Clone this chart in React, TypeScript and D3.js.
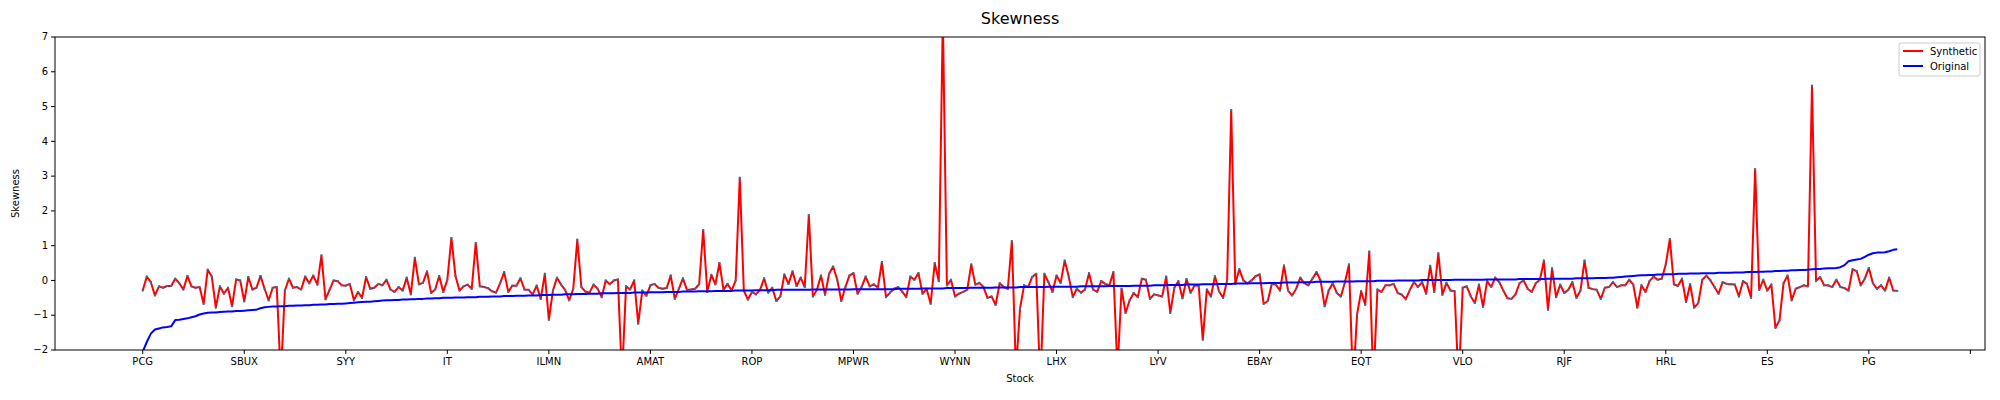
import * as d3 from "d3";

const tickLabels = ["PCG", "SBUX", "SYY", "IT", "ILMN", "AMAT", "ROP", "MPWR", "WYNN", "LHX", "LYV", "EBAY", "EQT", "VLO", "RJF", "HRL", "ES", "PG", ""];
const yTicks = [-2, -1, 0, 1, 2, 3, 4, 5, 6, 7];

const synthetic = [
  -0.29, 0.11, -0.05, -0.43, -0.17, -0.21, -0.16, -0.16, 0.05, -0.08, -0.26, 0.13, -0.17, -0.21, -0.19, -0.67, 0.31, 0.11, -0.78, -0.17, -0.38, -0.21, -0.74, 0.03, 0.0,
  -0.6, 0.1, -0.26, -0.21, 0.13, -0.24, -0.57, -0.21, -0.19, -2.8, -0.29, 0.05, -0.21, -0.19, -0.26, 0.11, -0.08, 0.14, -0.12, 0.72, -0.54, -0.27, 0.0, -0.02, -0.14,
  -0.15, -0.1, -0.57, -0.33, -0.5, 0.1, -0.24, -0.21, -0.1, -0.14, 0.02, -0.26,
  -0.33, -0.19, -0.29, 0.08, -0.4, 0.65, -0.11, -0.07, 0.26, -0.36,
  -0.26, 0.13, -0.33, 0.02, 1.22, 0.13, -0.29, -0.17, -0.12, -0.24,
  1.08, -0.17, -0.19, -0.22, -0.31, -0.35, -0.08, 0.24, -0.33, -0.15,
  -0.15, 0.06, -0.26, -0.27, -0.4, -0.15, -0.53, 0.19, -1.13, -0.29,
  0.08, -0.12, -0.27, -0.57, -0.24, 1.17, -0.19, -0.32, -0.35, -0.12,
  -0.24, -0.48, 0.0, -0.11, 0.0, 0.03, -2.8, -0.17, -0.26, 0.0,
  -1.24, -0.29,
  -0.44, -0.14, -0.1, -0.21, -0.24, -0.22, 0.14, -0.53, -0.24, 0.06,
  -0.27, -0.26, -0.24, -0.11, 1.45, -0.33, 0.16, -0.11, 0.5, -0.27,
  -0.1, -0.29, 0.0, 2.95, -0.29, -0.55, -0.33, -0.4, -0.27, 0.06,
  -0.35, -0.21, -0.59, -0.46, 0.17, -0.1, 0.26, -0.16, 0.08, -0.19,
  1.88, -0.46, -0.27, 0.14, -0.41, 0.19, 0.4, 0.02, -0.59, -0.19,
  0.14, 0.21, -0.38, -0.19, 0.11, -0.17, -0.11, -0.21, 0.53, -0.48,
  -0.35, -0.24,
  -0.19, -0.32, -0.48, 0.11, 0.02, 0.21, -0.38, -0.24, -0.67, 0.5,
  -0.02, 7.6, -0.14, 0.02, -0.46, -0.38, -0.33, -0.27, 0.46, -0.12,
  -0.07, -0.19, -0.5, -0.46, -0.7, -0.08, -0.19, -0.24, 1.13, -2.6,
  -0.81, -0.14, -0.19, 0.1, 0.19, -3.0, 0.19, -0.05, -0.33, 0.14,
  -0.07, 0.57, 0.11, -0.48, -0.24, -0.35, -0.26, 0.21, -0.26, -0.33,
  -0.02, -0.1, -0.14, 0.24, -2.6, -0.24, -0.93, -0.57, -0.36, -0.48,
  0.05, 0.02, -0.53, -0.4,
  -0.43, -0.46, 0.11, -0.93, -0.21, -0.02, -0.51, 0.04, -0.35, -0.14,
  -0.16, -1.7, -0.26, -0.46, 0.12, -0.31, -0.5, 0.0, 4.9, -0.1,
  0.32, 0.0, -0.08, 0.0, 0.12, 0.17, -0.67, -0.59, -0.1, -0.12,
  -0.29, 0.43, -0.29, -0.43, -0.24, 0.08, -0.08, -0.14, 0.05, 0.24,
  0.0, -0.74, -0.29, -0.08, -0.36, -0.46, -0.05, 0.46, -3.0, -0.97,
  -0.31, -0.7, 0.83, -3.0, -0.26, -0.33, -0.14, -0.14, -0.1, -0.36,
  -0.41,
  -0.54, -0.27, -0.05, -0.19, -0.05, -0.38, 0.42, -0.33, 0.78, -0.41,
  -0.07, -0.29, -0.31, -3.0, -0.21, -0.17, -0.46, -0.65, -0.12, -0.76,
  -0.02, -0.19, 0.08, -0.05, -0.29, -0.51, -0.53, -0.4, -0.08, 0.0,
  -0.24, -0.33, -0.08, 0.02, 0.57, -0.84, 0.35, -0.48, -0.12, -0.36,
  -0.27, -0.05, -0.5, -0.29, 0.57, -0.21, -0.25, -0.27, -0.53, -0.21,
  -0.19, -0.05, -0.19, -0.14, -0.14, 0.02, -0.12, -0.78, -0.14, -0.33,
  -0.02,
  0.11, 0.02, 0.05, 0.46, 1.19, -0.11, -0.16, 0.05, -0.62,
  -0.11, -0.78, -0.65, 0.02, 0.14, 0.0, -0.19, -0.38, -0.05, -0.1,
  -0.11, -0.12, -0.46, -0.02, -0.1, -0.5, 3.2, -0.27, 0.02, -0.29,
  -0.12, -1.36, -1.15, -0.08, 0.14, -0.57, -0.24, -0.19, -0.14, -0.17,
  5.6, -0.02, 0.1, -0.14, -0.14, -0.19, 0.02, -0.19, -0.22, -0.29,
  0.32, 0.27, -0.14, 0.05, 0.36, -0.08, -0.24, -0.14, -0.29, 0.08,
  -0.29, -0.3,
];

const original = [
  -2.05, -1.77, -1.53, -1.41, -1.38, -1.35, -1.34, -1.32, -1.14, -1.13,
  -1.11, -1.09, -1.06, -1.03, -0.98, -0.95, -0.93, -0.92, -0.92, -0.91,
  -0.9, -0.89, -0.89, -0.88, -0.88, -0.87, -0.86, -0.85, -0.84, -0.8,
  -0.77, -0.76, -0.75, -0.75, -0.74, -0.74, -0.73, -0.73, -0.72, -0.72,
  -0.71, -0.71, -0.7, -0.7, -0.69, -0.69, -0.68, -0.68, -0.67, -0.67,
  -0.66, -0.65, -0.64, -0.63, -0.62, -0.61, -0.61, -0.6, -0.59, -0.58,
  -0.57, -0.57, -0.56, -0.56, -0.55, -0.55, -0.54, -0.54, -0.53, -0.53,
  -0.52, -0.52, -0.51, -0.51, -0.5, -0.5, -0.5, -0.49, -0.49, -0.49,
  -0.48, -0.48, -0.48, -0.47, -0.47, -0.47, -0.46, -0.46, -0.46, -0.45,
  -0.45, -0.45, -0.44, -0.44, -0.44, -0.43, -0.43, -0.43, -0.42, -0.42,
  -0.42, -0.41, -0.41, -0.41, -0.4, -0.4, -0.4, -0.39, -0.39, -0.39,
  -0.38, -0.38, -0.38, -0.37, -0.37, -0.37, -0.37, -0.36, -0.36, -0.36,
  -0.36, -0.35, -0.35, -0.35, -0.35, -0.34, -0.34, -0.34, -0.34, -0.33,
  -0.33, -0.33, -0.33, -0.32, -0.32, -0.32, -0.32, -0.31, -0.31, -0.31,
  -0.31, -0.3, -0.3, -0.3, -0.3, -0.3, -0.29, -0.29, -0.29, -0.29,
  -0.29, -0.28, -0.28, -0.28, -0.28, -0.28, -0.27, -0.27, -0.27, -0.27,
  -0.27, -0.27, -0.27, -0.27, -0.27, -0.26, -0.26, -0.26, -0.26, -0.26,
  -0.26, -0.26, -0.26, -0.26, -0.26, -0.25, -0.25, -0.25, -0.25, -0.25,
  -0.25, -0.25, -0.25, -0.25, -0.25, -0.25, -0.24, -0.24, -0.24, -0.24,
  -0.24, -0.24, -0.23, -0.23, -0.23, -0.23, -0.23, -0.23, -0.22, -0.22,
  -0.22, -0.22, -0.22, -0.22, -0.21, -0.21, -0.21, -0.21, -0.21, -0.21,
  -0.2, -0.2, -0.2, -0.2, -0.2, -0.2, -0.19, -0.19, -0.19, -0.19,
  -0.19, -0.19, -0.19, -0.18, -0.18, -0.18, -0.18, -0.18, -0.18, -0.18,
  -0.18, -0.17, -0.17, -0.17, -0.17, -0.17, -0.17, -0.17, -0.16, -0.16,
  -0.16, -0.16, -0.16, -0.16, -0.15, -0.15, -0.15, -0.15, -0.15, -0.14,
  -0.14, -0.14, -0.14, -0.13, -0.13, -0.13, -0.13, -0.12, -0.12, -0.12,
  -0.12, -0.11, -0.11, -0.11, -0.11, -0.1, -0.1, -0.1, -0.1, -0.09,
  -0.09, -0.09, -0.09, -0.08, -0.08, -0.08, -0.08, -0.07, -0.07, -0.07,
  -0.07, -0.06, -0.06, -0.06, -0.06, -0.05, -0.05, -0.05, -0.05, -0.04,
  -0.04, -0.04, -0.04, -0.04, -0.03, -0.03, -0.03, -0.03, -0.03, -0.02,
  -0.02, -0.02, -0.02, -0.02, -0.01, -0.01, -0.01, -0.01, -0.01, 0.0,
  0.0, 0.0, 0.0, 0.0, 0.0, 0.01, 0.01, 0.01, 0.01, 0.01,
  0.01, 0.01, 0.01, 0.02, 0.02, 0.02, 0.02, 0.02, 0.02, 0.02,
  0.02, 0.03, 0.03, 0.03, 0.03, 0.03, 0.03, 0.03, 0.03, 0.04,
  0.04, 0.04, 0.04, 0.04, 0.04, 0.04, 0.05, 0.05, 0.05, 0.05,
  0.05, 0.05, 0.05, 0.06, 0.06, 0.06, 0.06, 0.06, 0.07, 0.07,
  0.07, 0.08, 0.08, 0.09, 0.1, 0.11, 0.12, 0.13, 0.14, 0.15,
  0.15, 0.16, 0.16, 0.17, 0.17, 0.18, 0.18, 0.18, 0.19, 0.19,
  0.19, 0.2, 0.2, 0.2, 0.21, 0.21, 0.21, 0.21, 0.22, 0.22,
  0.22, 0.22, 0.23, 0.23, 0.23, 0.24, 0.24, 0.24, 0.25, 0.25,
  0.26, 0.26, 0.27, 0.27, 0.28, 0.28, 0.29, 0.29, 0.3, 0.3,
  0.31, 0.32, 0.33, 0.33, 0.34, 0.35, 0.35, 0.36, 0.38, 0.44,
  0.55, 0.58, 0.6, 0.62, 0.68, 0.74, 0.78, 0.8, 0.8, 0.81,
  0.84, 0.88, 0.9,
];

const W = 2000;
const H = 400;
const margin = { top: 37, right: 15, bottom: 50, left: 55 };
const font = "DejaVu Sans, sans-serif";

export default function App() {
  const innerW = W - margin.left - margin.right;
  const innerH = H - margin.top - margin.bottom;
  const n = original.length;
  const pad = (n - 1 + 18) * 0.05;

  const x = d3.scaleLinear().domain([-pad, n - 1 + 18 + pad - 18]).range([0, innerW]);
  // matplotlib auto-limits are taken from the data (0..n-1) plus 5%
  x.domain([-(n - 1) * 0.05, (n - 1) * 1.05]);
  const y = d3.scaleLinear().domain([-2, 7]).range([innerH, 0]);

  const line = d3
    .line<number>()
    .x((_, i) => x(i))
    .y((d) => y(d));

  const xTicks = tickLabels.map((_, i) => i * 25);

  return (
    <svg width={W} height={H} style={{ position: "absolute", left: 0, top: 0, background: "#fff" }}>
      <defs>
        <clipPath id="plot-clip">
          <rect width={innerW} height={innerH} />
        </clipPath>
      </defs>
      <text x={margin.left + innerW / 2} y={24} textAnchor="middle" fontFamily={font} fontSize={16}>
        Skewness
      </text>
      <g transform={`translate(${margin.left},${margin.top})`}>
        <g clipPath="url(#plot-clip)">
          <path d={line(synthetic) ?? ""} fill="none" stroke="red" strokeWidth={2} strokeLinejoin="round" />
          {synthetic.map((d, i) => (
            <rect key={i} x={x(i) - 1} y={y(d) - 1} width={2} height={2} fill="#1f77b4" />
          ))}
          <path d={line(original) ?? ""} fill="none" stroke="blue" strokeWidth={2} strokeLinejoin="round" />
        </g>
        <rect width={innerW} height={innerH} fill="none" stroke="#000" strokeWidth={1} />
        {yTicks.map((t) => (
          <g key={t} transform={`translate(0,${y(t)})`}>
            <line x1={-4} x2={0} stroke="#000" />
            <text x={-7} dy="0.32em" textAnchor="end" fontFamily={font} fontSize={10}>
              {t < 0 ? `\u2212${-t}` : t}
            </text>
          </g>
        ))}
        {xTicks.map((t, i) => (
          <g key={t} transform={`translate(${x(t)},${innerH})`}>
            <line y2={4} stroke="#000" />
            <text y={15} textAnchor="middle" fontFamily={font} fontSize={10}>
              {tickLabels[i]}
            </text>
          </g>
        ))}
        <text x={innerW / 2} y={innerH + 32} textAnchor="middle" fontFamily={font} fontSize={10}>
          Stock
        </text>
        <text
          transform={`translate(-36,${innerH / 2}) rotate(-90)`}
          textAnchor="middle"
          fontFamily={font}
          fontSize={10}
        >
          Skewness
        </text>
        <g transform={`translate(${innerW - 86},6)`}>
          <rect width={81} height={33} rx={2} fill="#fff" fillOpacity={0.8} stroke="#ccc" />
          <line x1={4} x2={24} y1={8} y2={8} stroke="red" strokeWidth={2} />
          <text x={31} y={11.5} fontFamily={font} fontSize={10}>
            Synthetic
          </text>
          <line x1={4} x2={24} y1={23} y2={23} stroke="blue" strokeWidth={2} />
          <text x={31} y={26.5} fontFamily={font} fontSize={10}>
            Original
          </text>
        </g>
      </g>
    </svg>
  );
}
